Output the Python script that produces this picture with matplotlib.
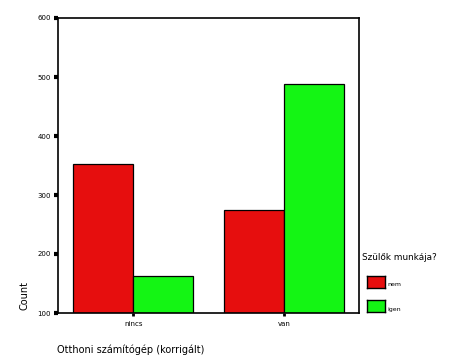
import matplotlib
matplotlib.use("Agg")
import matplotlib.pyplot as plt
import numpy as np

# data
categories = ["nincs", "van"]
nem_counts = [352, 275]
igen_counts = [163, 488]
series_labels = ["nem", "igen"]
yticks = [100, 200, 300, 400, 500, 600]

W, H = 455, 364
fig = plt.figure(figsize=(W / 100, H / 100), dpi=100)
# plot area in pixels: x 58..359, y 18..313
ax = fig.add_axes([58 / W, 1 - 313 / H, (359 - 58) / W, (313 - 18) / H])

red = "#e60e0e"
green = "#14f514"
x = np.arange(len(categories))
w = 0.4
base = 100
ax.bar(x - w / 2, np.array(nem_counts) - base, w, bottom=base, color=red,
       edgecolor="black", linewidth=0.9, label=series_labels[0])
ax.bar(x + w / 2, np.array(igen_counts) - base, w, bottom=base, color=green,
       edgecolor="black", linewidth=0.9, label=series_labels[1])

ax.set_xlim(-0.5, 1.5)
ax.set_ylim(100, 600)
ax.set_yticks(yticks)
ax.set_yticklabels([str(t) for t in yticks], fontsize=5)
ax.set_xticks(x)
ax.set_xticklabels(categories, fontsize=5)
ax.tick_params(axis="y", length=3, width=3, direction="out", pad=2)
ax.tick_params(axis="x", length=2, width=2, direction="out", pad=4)
for s in ax.spines.values():
    s.set_linewidth(1.2)

fig.text(25 / W, 1 - 296 / H, "Count", rotation=90, fontsize=7,
         ha="center", va="center")
fig.text(57 / W, 1 - 350 / H, "Otthoni számítógép (korrigált)", fontsize=7,
         ha="left", va="center")

# legend
fig.text(362 / W, 1 - 258 / H, "Szülők munkája?", fontsize=6.4,
         ha="left", va="center")
for i, (lab, col) in enumerate(zip(series_labels, [red, green])):
    y0 = 276 + i * 24
    lax = fig.add_axes([367 / W, 1 - (y0 + 12) / H, 18 / W, 12 / H])
    lax.set_facecolor(col)
    lax.set_xticks([])
    lax.set_yticks([])
    for s in lax.spines.values():
        s.set_linewidth(1)
    fig.text(387 / W, 1 - (y0 + 9) / H, lab, fontsize=4.5,
             ha="left", va="center")

fig.savefig("out.png", dpi=100)
